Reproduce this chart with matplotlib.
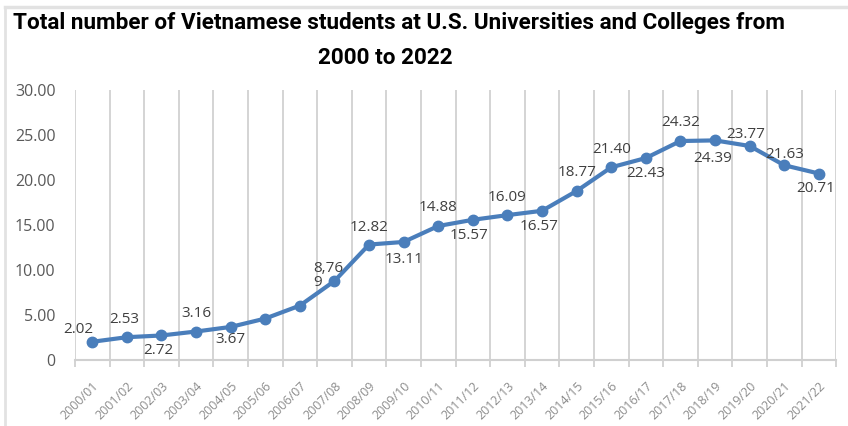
import matplotlib.pyplot as plt
from matplotlib.lines import Line2D

years = ["2000/01", "2001/02", "2002/03", "2003/04", "2004/05", "2005/06", "2006/07",
         "2007/08", "2008/09", "2009/10", "2010/11", "2011/12", "2012/13", "2013/14",
         "2014/15", "2015/16", "2016/17", "2017/18", "2018/19", "2019/20", "2020/21",
         "2021/22"]
students = [2.02, 2.53, 2.72, 3.16, 3.67, 4.60, 6.04, 8.769, 12.82, 13.11, 14.88, 15.57,
            16.09, 16.57, 18.77, 21.40, 22.43, 24.32, 24.39, 23.77, 21.63, 20.71]
labels = ["2.02", "2.53", "2.72", "3.16", "3.67", "", "", "8,76\n9", "12.82", "13.11",
          "14.88", "15.57", "16.09", "16.57", "18.77", "21.40", "22.43", "24.32", "24.39",
          "23.77", "21.63", "20.71"]
# label offsets in points (x, y) relative to each marker
offsets = [(-10, 9), (-2, 13), (-2, -11), (0, 13), (0, -9), (0, 0), (0, 0), (-15, 4),
           (0, 12), (0, -13), (0, 13), (-3, -11), (0, 13), (-2, -11), (0, 13), (0, 13),
           (0, -11), (0, 13), (-2, -13), (-3, 8), (0, 8), (-2, -11)]

fig = plt.figure(figsize=(8.48, 4.26), dpi=100)
ax = fig.add_axes([0.0884, 0.155, 0.8976, 0.634])

x = list(range(len(years)))
ax.plot(x, students, color="#4a7ebb", lw=3, marker="o", ms=7.5, zorder=3)

for xi, yi, lab, (dx, dy) in zip(x, students, labels, offsets):
    if not lab:
        continue
    if "\n" in lab:
        ax.annotate(lab, (xi, yi), xytext=(dx, dy), textcoords="offset points",
                    ha="left", va="center", multialignment="left", fontsize=11,
                    family="Open Sans", color="#404040", linespacing=0.95, zorder=4)
    else:
        ax.annotate(lab, (xi, yi), xytext=(dx, dy), textcoords="offset points",
                    ha="center", va="center", fontsize=11, family="Open Sans",
                    color="#404040", zorder=4)

ax.set_xlim(-0.5, len(years) - 0.5)
ax.set_ylim(0, 30)
ax.set_yticks([0, 5, 10, 15, 20, 25, 30])
ax.set_yticklabels(["0", "5.00", "10.00", "15.00", "20.00", "25.00", "30.00"],
                   family="Open Sans", fontsize=11.5, color="#595959")
ax.tick_params(axis="y", length=0, pad=14)

ax.set_xticks(x)
ax.set_xticklabels(years, rotation=45, ha="right", rotation_mode="anchor",
                   family="Open Sans", fontsize=9, color="#8c8c8c")
ax.tick_params(axis="x", length=0, pad=14)
bounds = [i - 0.5 for i in range(len(years) + 1)]
ax.set_xticks(bounds, minor=True)
ax.tick_params(axis="x", which="minor", length=5, width=1.3, color="#d0d0d0")
ax.grid(axis="x", which="minor", color="#d4d4d4", lw=1.4)
ax.grid(axis="x", which="major", visible=False)

for s in ["top", "right", "left"]:
    ax.spines[s].set_visible(False)
ax.spines["bottom"].set_color("#d0d0d0")
ax.spines["bottom"].set_linewidth(1.5)

fig.text(0.47, 0.945, "Total number of Vietnamese students at U.S. Universities and Colleges from",
         ha="center", va="center", fontsize=16.2, fontweight="bold",
         family="Roboto", color="black")
fig.text(0.454, 0.864, "2000 to 2022", ha="center", va="center", fontsize=16.2,
         fontweight="bold", family="Roboto", color="black")

# frame lines of the original screenshot
fig.add_artist(Line2D([5 / 848, 1], [1 - 6.5 / 426, 1 - 6.5 / 426], color="#e2e2e2", lw=2.5,
                      transform=fig.transFigure))
fig.add_artist(Line2D([5 / 848, 5 / 848], [0, 1 - 6.5 / 426], color="#e2e2e2", lw=2,
                      transform=fig.transFigure))

fig.savefig("out.png", dpi=100)
